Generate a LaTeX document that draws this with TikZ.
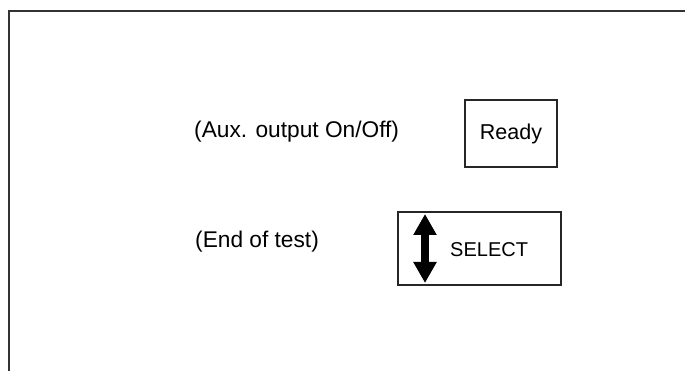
\documentclass[tikz,border=0pt]{standalone}
\usepackage{fontspec}
\setmainfont{Liberation Sans}
\usetikzlibrary{arrows.meta,positioning}

\begin{document}
\begin{tikzpicture}[x=1pt, y=-1pt,
  lbl/.style={anchor=base west, inner sep=0pt, text=black, font=\fontsize{22.7}{24}\selectfont},
  keybox/.style={draw=black!85, line width=1.8pt, inner sep=0pt}]
  \useasboundingbox (0,0) rectangle (685,371);

  % Frame
  \coordinate (fbl) at (8.5,371);
  \coordinate (ftl) at (8.5,11);
  \coordinate (ftr) at (685,11);
  \draw[black!80, line width=2pt] (fbl) -- (ftl) -- (ftr);

  % Aux output line
  \node[lbl] (aux) at (194,138) {(Aux. output On/Off)};
  \node[keybox, minimum width=92pt, minimum height=67pt,
        font=\fontsize{21.5}{24}\selectfont, text=black] (ready) at (511,133.5) {Ready};

  % End of test line
  \node[lbl] (eot) at (195,248) {(End of test)};
  \node[keybox, minimum width=163pt, minimum height=73pt] (selbox) at (479.5,248.5) {};
  \node[anchor=base west, inner sep=0pt, text=black,
        font=\fontsize{20}{24}\selectfont] (select) at (450,257) {SELECT};

  % Up/down arrow
  \coordinate (arrup) at (425,214);
  \coordinate (arrdn) at (425,283);
  \draw[line width=7.5pt, black,
        {Triangle[width=22pt, length=21pt]}-{Triangle[width=22pt, length=21pt]}] (arrup) -- (arrdn);
\end{tikzpicture}
\end{document}
